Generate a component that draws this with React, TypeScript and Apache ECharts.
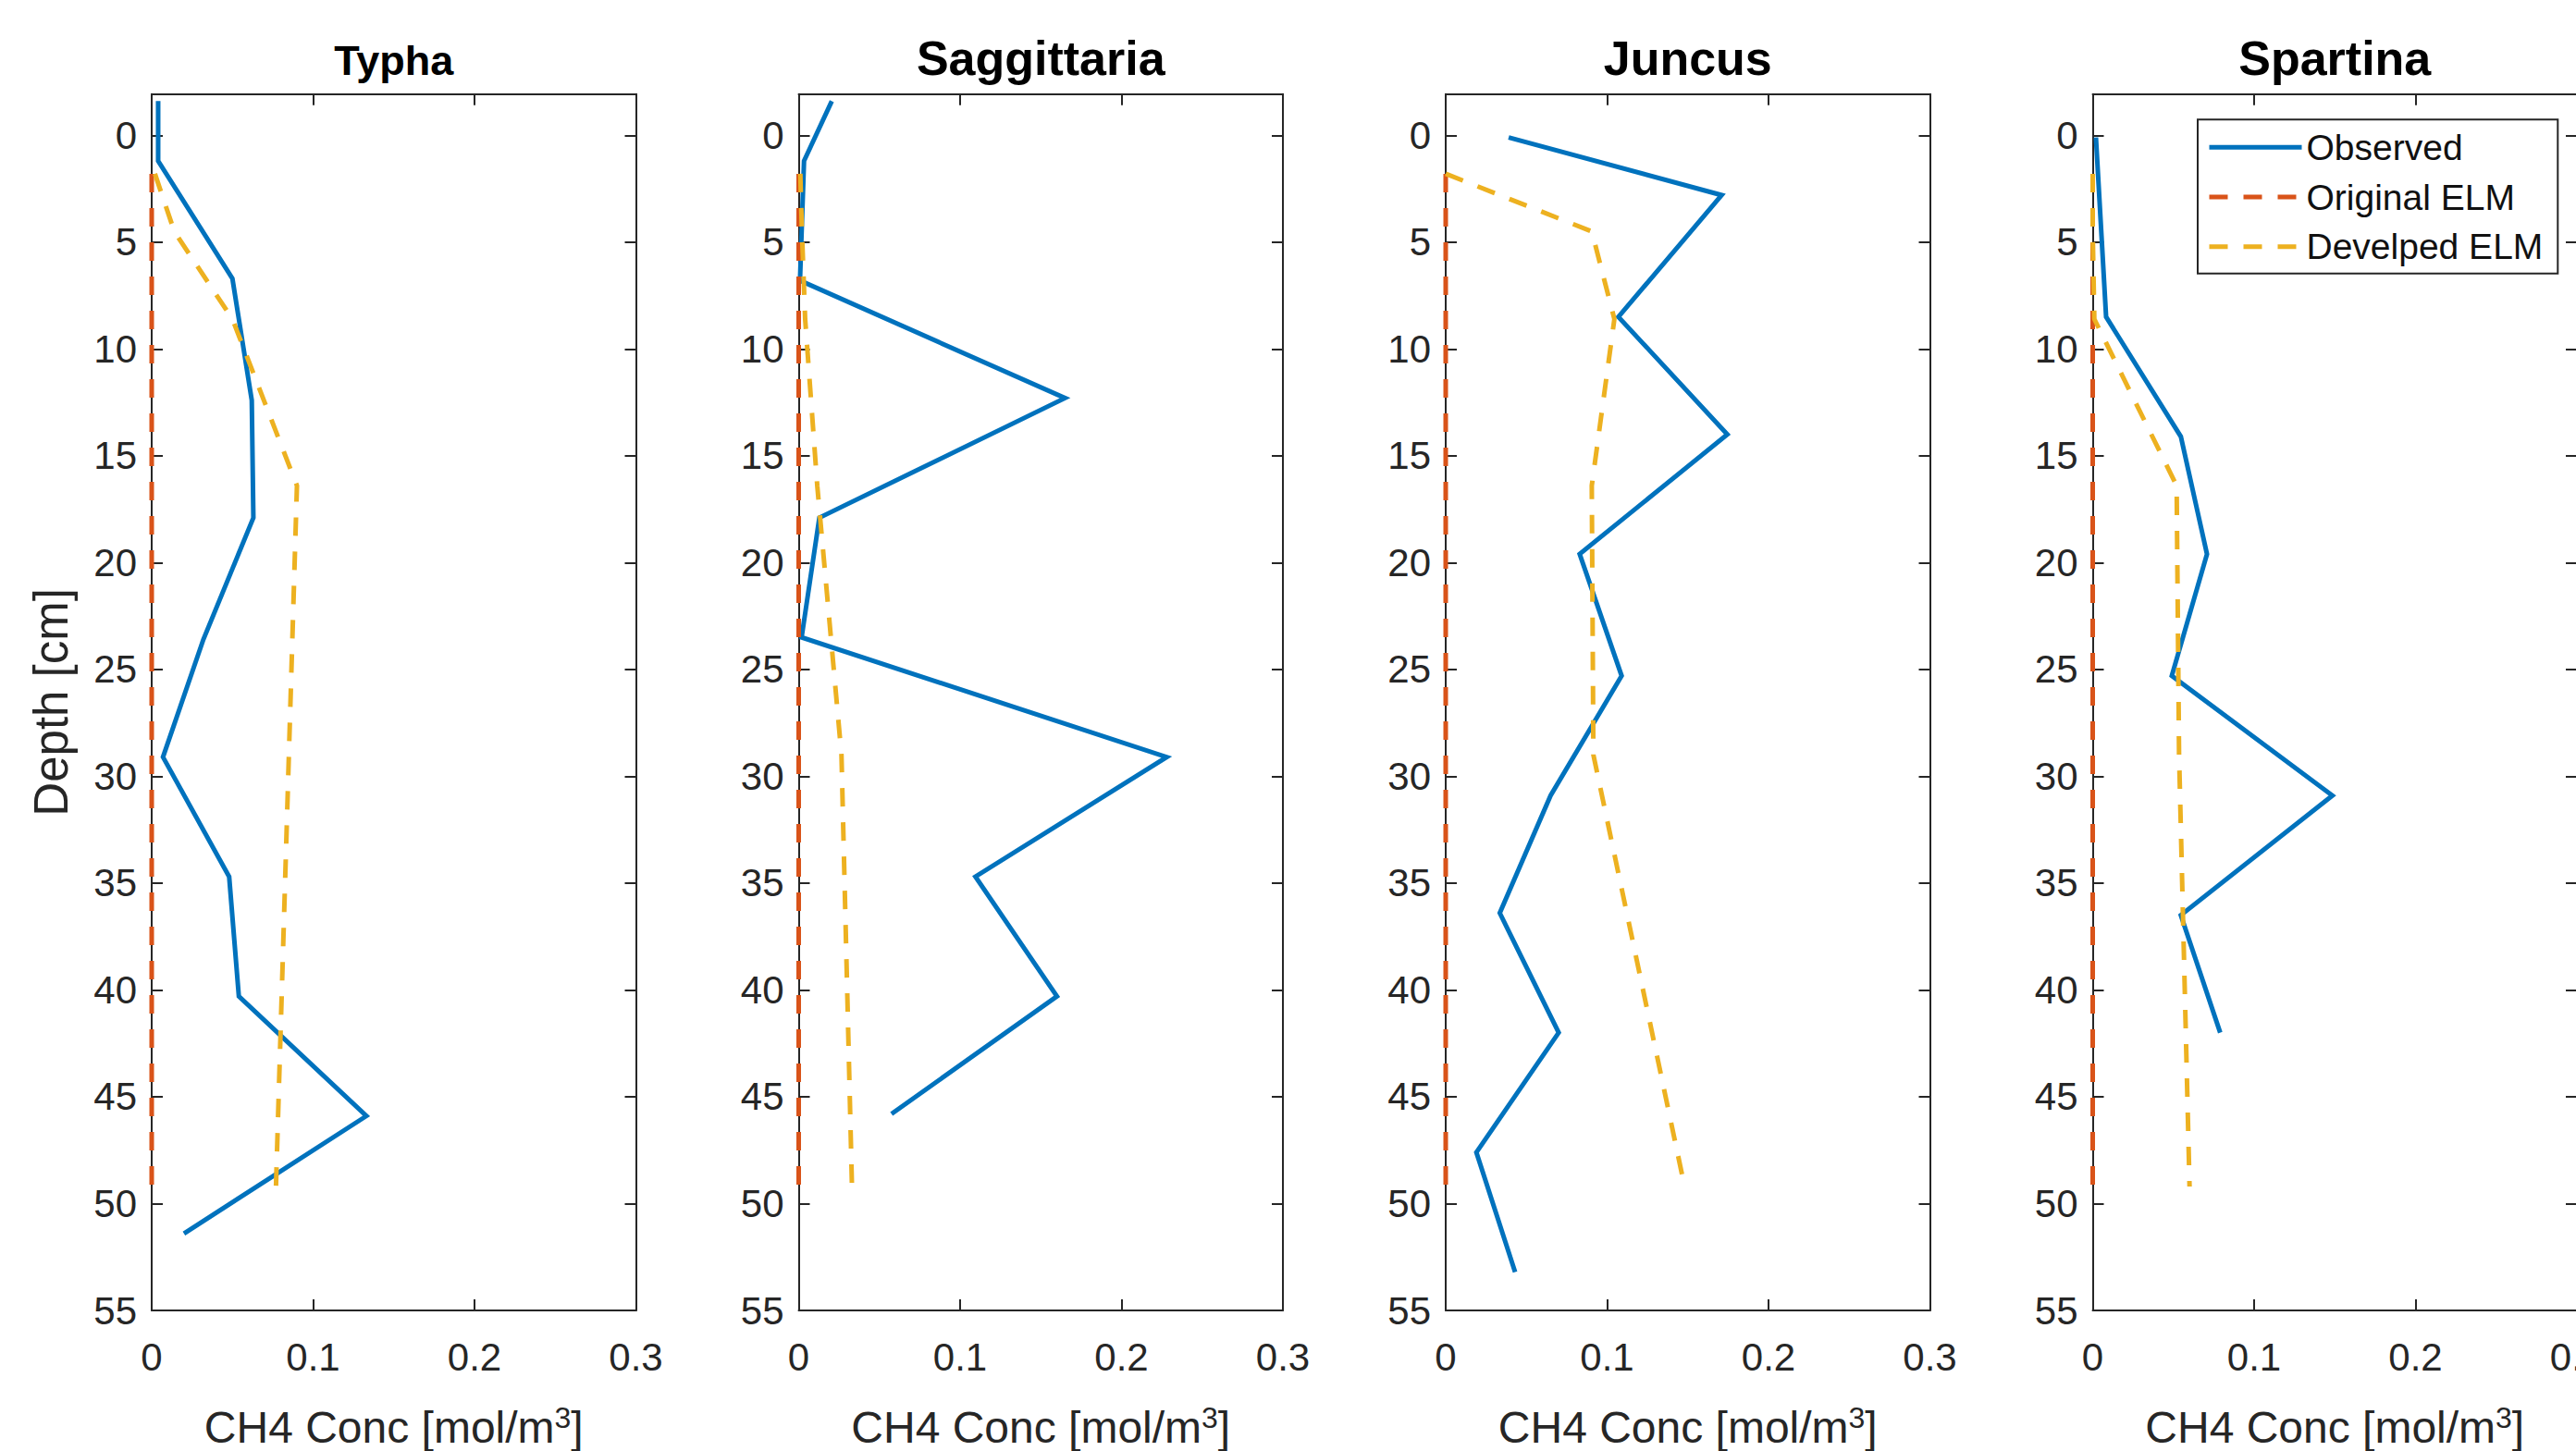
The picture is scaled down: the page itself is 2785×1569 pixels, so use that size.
import React, { useEffect, useRef } from "react";
import * as echarts from "echarts";

// ---------------- data ----------------
const species = ["Typha", "Saggittaria", "Juncus", "Spartina"];
const seriesNames = ["Observed", "Original ELM", "Develped ELM"];

const typhaObsDepth = [-1.6, 1.2, 6.7, 12.4, 17.9, 23.6, 29.1, 34.7, 40.3, 45.9, 51.4];
const typhaObsConc = [0.004, 0.004, 0.05, 0.062, 0.063, 0.032, 0.007, 0.048, 0.054, 0.133, 0.02];

const sagObsDepth = [-1.6, 1.2, 6.8, 12.3, 17.9, 23.5, 29.1, 34.7, 40.3, 45.8];
const sagObsConc = [0.0205, 0.0033, 0.0008, 0.165, 0.0128, 0.0018, 0.228, 0.1095, 0.16, 0.0575];

const juncusObsDepth = [0.1, 2.8, 8.5, 14.0, 19.6, 25.3, 30.9, 36.4, 42.0, 47.6, 53.2];
const juncusObsConc = [0.039, 0.171, 0.107, 0.1745, 0.083, 0.109, 0.065, 0.0335, 0.07, 0.019, 0.043];

const spartinaObsDepth = [0.1, 8.5, 14.1, 19.6, 25.3, 30.9, 36.5, 42.0];
const spartinaObsConc = [0.002, 0.0083, 0.0546, 0.0708, 0.049, 0.1485, 0.0546, 0.079];

const modelDepth = [1.8, 4.5, 8.6, 16.4, 29.0, 49.2];
const originalConc = [0, 0, 0, 0, 0, 0];
const typhaDevConc = [0.002, 0.014, 0.05, 0.09, 0.085, 0.077];
const sagDevConc = [0.001, 0.002, 0.004, 0.0115, 0.0265, 0.033];
const juncusDevConc = [0.0, 0.0905, 0.1045, 0.0905, 0.0915, 0.148];
const spartinaDevConc = [0.0, 0.0, 0.001, 0.052, 0.0535, 0.06];

const depthTicks = [0, 5, 10, 15, 20, 25, 30, 35, 40, 45, 50, 55];

const obsDepths = [typhaObsDepth, sagObsDepth, juncusObsDepth, spartinaObsDepth];
const obsConcs = [typhaObsConc, sagObsConc, juncusObsConc, spartinaObsConc];
const devConcs = [typhaDevConc, sagDevConc, juncusDevConc, spartinaDevConc];

// ---------------- style / layout ----------------
const BLUE = "#0072BD";
const ORANGE = "#D95319";
const YELLOW = "#EDB120";
const AX = "#262626";
const FONT = "'Liberation Sans', Arial, Helvetica, sans-serif";

const PANEL_LEFT = [164, 863.5, 1563, 2262.5];
const PANEL_W = 523.5;
const PANEL_TOP = 101.7;
const PANEL_H = 1315.3;
const DASH = [20, 17];
const LW = 5;

function pairs(xs: number[], ys: number[]) {
  return xs.map((x, i) => [x, ys[i]]);
}

function buildOption() {
  const grid: any[] = [];
  const xAxis: any[] = [];
  const yAxis: any[] = [];
  const series: any[] = [];
  const title: any[] = [];

  const axisLine = { show: true, onZero: false, lineStyle: { color: AX, width: 2 } };
  const tickStyle = { color: AX, width: 2 };

  species.forEach((name, i) => {
    grid.push({
      left: PANEL_LEFT[i],
      top: PANEL_TOP,
      width: PANEL_W,
      height: PANEL_H,
      containLabel: false,
      outerBoundsMode: "none",
    });

    const big = i === 0 ? 45 : 52;
    title.push({
      text: name,
      left: PANEL_LEFT[i] + PANEL_W / 2,
      top: i === 0 ? 42.9 : 37,
      textAlign: "center",
      padding: 0,
      textStyle: {
        fontSize: big,
        lineHeight: big,
        fontWeight: "bold",
        color: "#000",
        fontFamily: FONT,
      },
    });

    // bottom x axis
    xAxis.push({
      type: "value",
      gridIndex: i,
      position: "bottom",
      min: 0,
      max: 0.3,
      interval: 0.1,
      axisLine,
      axisTick: { show: true, inside: true, length: 12, lineStyle: tickStyle },
      axisLabel: {
        show: true,
        margin: 29,
        fontSize: 42,
        color: AX,
        fontFamily: FONT,
        showMinLabel: true,
        showMaxLabel: true,
      },
      splitLine: { show: false },
      name: "{a|CH4 Conc [mol/m}{s|3}{a|]}",
      nameLocation: "middle",
      nameGap: 100,
      nameMoveOverlap: false,
      nameTextStyle: {
        rich: {
          a: { fontSize: 48, lineHeight: 52, color: AX, fontFamily: FONT },
          s: { fontSize: 32, lineHeight: 15, verticalAlign: "top", color: AX, fontFamily: FONT },
        },
      },
    });
    // top x axis (box ticks)
    xAxis.push({
      type: "value",
      gridIndex: i,
      position: "top",
      min: 0,
      max: 0.3,
      interval: 0.1,
      axisLine,
      axisTick: { show: true, inside: true, length: 12, lineStyle: tickStyle },
      axisLabel: { show: false },
      splitLine: { show: false },
    });

    // left y axis
    yAxis.push({
      type: "value",
      gridIndex: i,
      position: "left",
      inverse: true,
      min: -1.93,
      max: 55,
      axisLine,
      axisTick: {
        show: true,
        inside: true,
        length: 12,
        customValues: depthTicks,
        lineStyle: tickStyle,
      },
      axisLabel: {
        show: true,
        customValues: depthTicks,
        margin: 16,
        fontSize: 42,
        color: AX,
        fontFamily: FONT,
      },
      splitLine: { show: false },
      name: i === 0 ? "Depth [cm]" : "",
      nameLocation: "middle",
      nameGap: 83,
      nameMoveOverlap: false,
      nameTextStyle: { fontSize: 51, lineHeight: 51, color: AX, fontFamily: FONT },
    });
    // right y axis (box ticks)
    yAxis.push({
      type: "value",
      gridIndex: i,
      position: "right",
      inverse: true,
      min: -1.93,
      max: 55,
      axisLine,
      axisTick: {
        show: true,
        inside: true,
        length: 12,
        customValues: depthTicks,
        lineStyle: tickStyle,
      },
      axisLabel: { show: false },
      splitLine: { show: false },
    });

    const common = {
      type: "line",
      xAxisIndex: 2 * i,
      yAxisIndex: 2 * i,
      symbol: "none",
      showSymbol: false,
      clip: false,
      silent: true,
      z: 5,
    };
    series.push({
      ...common,
      name: seriesNames[0],
      color: BLUE,
      lineStyle: { color: BLUE, width: LW, join: "miter" },
      data: pairs(obsConcs[i], obsDepths[i]),
    });
    series.push({
      ...common,
      name: seriesNames[1],
      color: ORANGE,
      lineStyle: { color: ORANGE, width: LW, type: DASH },
      data: pairs(originalConc, modelDepth),
    });
    series.push({
      ...common,
      name: seriesNames[2],
      color: YELLOW,
      lineStyle: { color: YELLOW, width: LW, type: DASH },
      data: pairs(devConcs[i], modelDepth),
    });
  });

  return {
    animation: false,
    backgroundColor: "#ffffff",
    title,
    grid,
    xAxis,
    yAxis,
    series,
    legend: {
      data: seriesNames,
      orient: "vertical",
      left: 2376,
      top: 129.3,
      itemWidth: 100,
      itemHeight: 20,
      itemGap: 13.7,
      padding: [10, 16, 9, 10],
      borderColor: AX,
      borderWidth: 2,
      borderRadius: 0,
      backgroundColor: "#ffffff",
      selectedMode: false,
      z: 10,
      itemStyle: { opacity: 0, borderWidth: 0 },
      lineStyle: { opacity: 1, width: LW },
      textStyle: { fontSize: 39, lineHeight: 40, color: "#111111", fontFamily: FONT },
    },
  };
}

export default function App() {
  const ref = useRef<HTMLDivElement | null>(null);

  useEffect(() => {
    document.body.style.margin = "0";
    if (!ref.current) return;
    const chart = echarts.init(ref.current, null, { renderer: "svg" });
    chart.setOption(buildOption() as any);
    return () => {
      chart.dispose();
    };
  }, []);

  return (
    <div
      style={{
        position: "fixed",
        left: 0,
        top: 0,
        width: 2785,
        height: 1569,
        overflow: "hidden",
        background: "#ffffff",
      }}
    >
      <div ref={ref} style={{ width: 2830, height: 1569 }} />
    </div>
  );
}
